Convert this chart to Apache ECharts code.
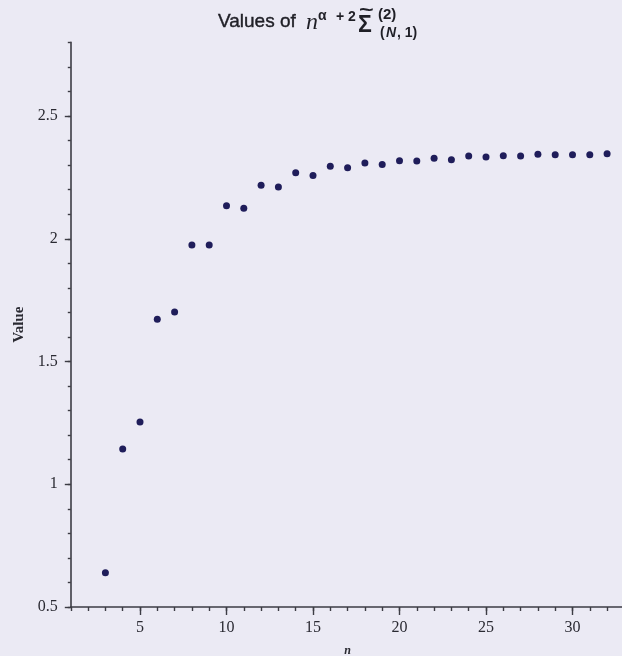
<!DOCTYPE html>
<html>
<head>
<meta charset="utf-8">
<script src="https://cdn.jsdelivr.net/npm/echarts@6/dist/echarts.min.js"></script>
<style>
  html, body { margin: 0; padding: 0; background: #ebeaf4; }
  #chart { width: 622px; height: 656px; }
</style>
</head>
<body>
<div id="chart"></div>
<script>
// n from 3 to 32 and the corresponding computed values
const nValues = [3, 4, 5, 6, 7, 8, 9, 10, 11, 12, 13, 14, 15, 16, 17,
                 18, 19, 20, 21, 22, 23, 24, 25, 26, 27, 28, 29, 30, 31, 32];
const seriesValues = [0.640, 1.144, 1.254, 1.672, 1.702, 1.975, 1.975, 2.135, 2.124, 2.218,
                      2.211, 2.269, 2.258, 2.295, 2.289, 2.309, 2.303, 2.318, 2.317, 2.328,
                      2.322, 2.337, 2.333, 2.338, 2.337, 2.344, 2.342, 2.342, 2.342, 2.346];

// axis ticks
const xTickLabels = [5, 10, 15, 20, 25, 30];
const yTickLabels = [0.5, 1, 1.5, 2, 2.5];
const xRange = [1, 33];
const yRange = [0.5, 2.8];

// minor tick positions: every integer on x, every 0.1 on y
const xMinorTicks = [];
for (let v = xRange[0]; v <= xRange[1]; v++) xMinorTicks.push(v);
const yMinorTicks = [];
for (let k = 5; k <= 28; k++) yMinorTicks.push(+(k / 10).toFixed(1));

const axisColor = '#3c3c44';
const textColor = '#2a2a32';
const titleColor = '#1f1f26';
const serif = '"Liberation Serif", "DejaVu Serif", serif';
const sans = '"Liberation Sans", Arial, sans-serif';

const chart = echarts.init(document.getElementById('chart'), null, { renderer: 'canvas' });

const data = nValues.map((n, i) => [n, seriesValues[i]]);

function baseX(extra) {
  return Object.assign({
    type: 'value', gridIndex: 0, position: 'bottom',
    min: xRange[0], max: xRange[1],
    splitLine: { show: false }
  }, extra);
}
function baseY(extra) {
  return Object.assign({
    type: 'value', gridIndex: 0, position: 'left',
    min: yRange[0], max: yRange[1],
    splitLine: { show: false }
  }, extra);
}

function titlePart(x, y, text, font, extra) {
  return Object.assign({
    type: 'text', x: x, y: y,
    style: { text: text, font: font, fill: titleColor, textVerticalAlign: 'middle' }
  }, extra || {});
}

chart.setOption({
  backgroundColor: '#ebeaf4',
  animation: false,
  grid: { left: 70.8, right: -2.4, top: 42.4, bottom: 49, containLabel: false, outerBoundsMode: 'none' },
  xAxis: [
    baseX({
      axisLine: { show: true, lineStyle: { color: axisColor, width: 1.6 } },
      axisTick: { show: true, customValues: xTickLabels, length: 8, lineStyle: { color: axisColor, width: 1.4 } },
      axisLabel: { show: true, customValues: xTickLabels, margin: 13, color: textColor,
                   fontFamily: serif, fontSize: 16 },
      name: 'n', nameLocation: 'middle', nameGap: 38,
      nameTextStyle: { fontFamily: serif, fontStyle: 'italic', fontWeight: 'bold', fontSize: 12, color: textColor }
    }),
    baseX({
      axisLine: { show: false },
      axisTick: { show: true, customValues: xMinorTicks, length: 4, lineStyle: { color: axisColor, width: 1.4 } },
      axisLabel: { show: false }
    })
  ],
  yAxis: [
    baseY({
      axisLine: { show: true, lineStyle: { color: axisColor, width: 1.6 } },
      axisTick: { show: true, customValues: yTickLabels, length: 6, lineStyle: { color: axisColor, width: 1.4 } },
      axisLabel: { show: true, customValues: yTickLabels, margin: 13, color: textColor,
                   fontFamily: serif, fontSize: 16 },
      name: 'Value', nameLocation: 'middle', nameGap: 40, nameRotate: 90,
      nameTextStyle: { fontFamily: serif, fontWeight: 'bold', fontSize: 15, color: textColor }
    }),
    baseY({
      axisLine: { show: false },
      axisTick: { show: true, customValues: yMinorTicks, length: 3, lineStyle: { color: axisColor, width: 1.4 } },
      axisLabel: { show: false }
    })
  ],
  series: [{
    type: 'scatter',
    xAxisIndex: 0, yAxisIndex: 0,
    data: data,
    symbol: 'circle',
    symbolSize: 7,
    itemStyle: { color: '#1f1d5a', opacity: 1 },
    clip: false
  }],
  // title: "Values of n^(α+2) Σ̃^(2)_(N,1)"
  graphic: [
    titlePart(218, 22, 'Values of', '19px ' + sans, { style: { text: 'Values of', font: '19px ' + sans, fill: titleColor, stroke: titleColor, lineWidth: 0.4, textVerticalAlign: 'middle' } }),
    titlePart(306, 23, 'n', 'italic 24px ' + serif),
    titlePart(318, 16, 'α', 'bold 14px ' + sans),
    titlePart(336, 17, '+ 2', 'bold 14px ' + sans),
    titlePart(358, 26, 'Σ', 'bold 23px ' + sans),
    titlePart(359, 11, '~', 'bold 18px ' + sans, { scaleX: 1.4 }),
    titlePart(378, 15, '(2)', 'bold 15px ' + sans),
    titlePart(380, 33, '(', 'bold 14px ' + sans),
    titlePart(386, 33, 'N', 'bold italic 14px ' + sans),
    titlePart(397, 33, ', 1)', 'bold 14px ' + sans)
  ]
});
</script>
</body>
</html>
